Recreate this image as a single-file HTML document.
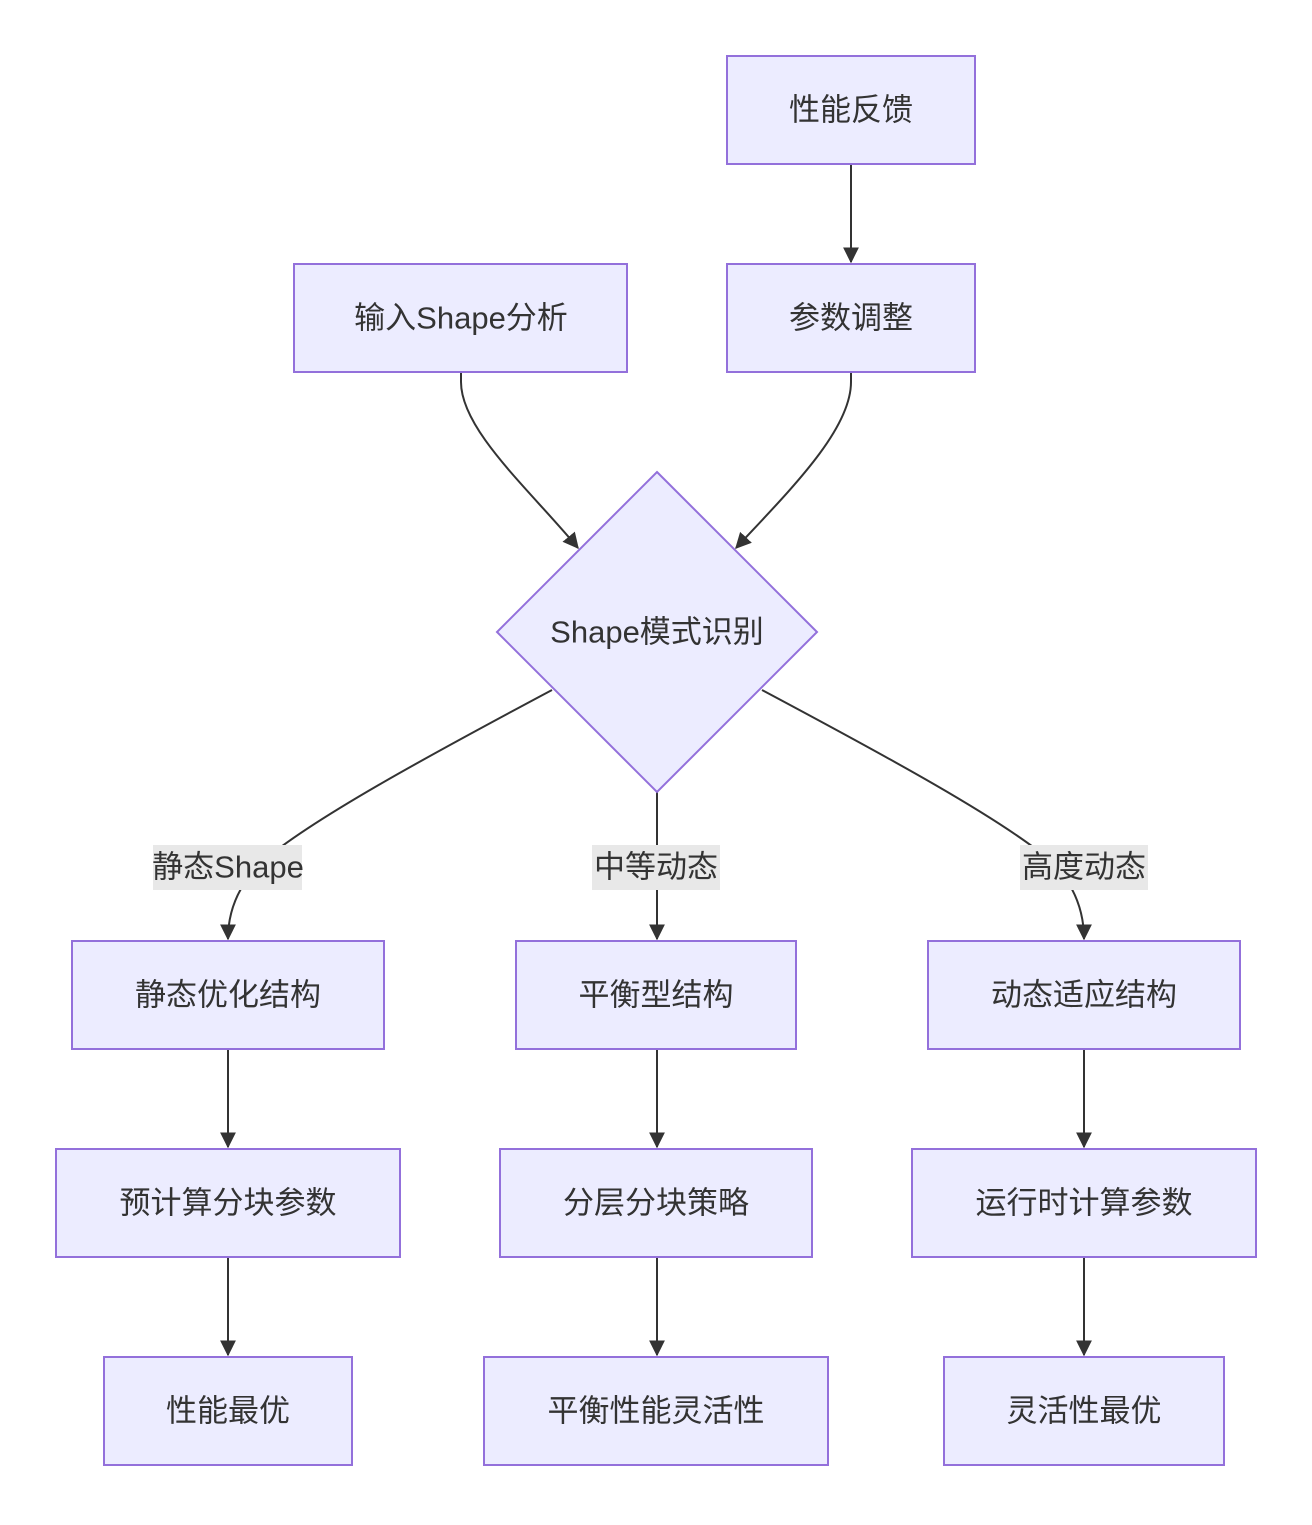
<!DOCTYPE html>
<html><head><meta charset="utf-8"><style>
html,body{margin:0;padding:0;background:#fff;}
text{font-family:"Liberation Sans","Noto Sans CJK SC",sans-serif;font-size:31px;fill:#333;text-anchor:middle;dominant-baseline:central;}
.n{fill:#ECECFF;stroke:#9370DB;stroke-width:2;}
.e{fill:none;stroke:#333;stroke-width:2;}
</style></head><body>
<svg width="1312" height="1520" viewBox="0 0 1312 1520" xmlns="http://www.w3.org/2000/svg">
<defs>
<marker id="b" viewBox="0 0 12 12" refX="11" refY="6" markerWidth="16" markerHeight="16" markerUnits="userSpaceOnUse" orient="auto"><path d="M0,0 L12,6 L0,12 z" fill="#333"/></marker></defs>
<path class="e" d="M851,164 L851,262" marker-end="url(#b)"/>
<path class="e" d="M461,372 L461,382 C461,430 530,490 578,548" marker-end="url(#b)"/>
<path class="e" d="M851,372 L851,382 C851,430 790,490 736,548" marker-end="url(#b)"/>
<path class="e" d="M552,690 C430,755 310,820 262,862 Q228,895 228,939" marker-end="url(#b)"/>
<path class="e" d="M657,792 L657,939" marker-end="url(#b)"/>
<path class="e" d="M762,690 C884,755 1004,820 1052,862 Q1084,895 1084,939" marker-end="url(#b)"/>
<path class="e" d="M228,1049 L228,1147" marker-end="url(#b)"/>
<path class="e" d="M657,1049 L657,1147" marker-end="url(#b)"/>
<path class="e" d="M1084,1049 L1084,1147" marker-end="url(#b)"/>
<path class="e" d="M228,1257 L228,1355" marker-end="url(#b)"/>
<path class="e" d="M657,1257 L657,1355" marker-end="url(#b)"/>
<path class="e" d="M1084,1257 L1084,1355" marker-end="url(#b)"/>
<rect x="153" y="845" width="149" height="45" fill="#e8e8e8"/><text x="228" y="867">静态Shape</text>
<rect x="592" y="845" width="128" height="45" fill="#e8e8e8"/><text x="656" y="867">中等动态</text>
<rect x="1020" y="845" width="128" height="45" fill="#e8e8e8"/><text x="1084" y="867">高度动态</text>
<rect class="n" x="727" y="56" width="248" height="108"/><text x="851" y="110">性能反馈</text>
<rect class="n" x="727" y="264" width="248" height="108"/><text x="851" y="318">参数调整</text>
<rect class="n" x="294" y="264" width="333" height="108"/><text x="461" y="318">输入Shape分析</text>
<polygon class="n" points="657,472 817,632 657,792 497,632"/><text x="657" y="632">Shape模式识别</text>
<rect class="n" x="72" y="941" width="312" height="108"/><text x="228" y="995">静态优化结构</text>
<rect class="n" x="516" y="941" width="280" height="108"/><text x="656" y="995">平衡型结构</text>
<rect class="n" x="928" y="941" width="312" height="108"/><text x="1084" y="995">动态适应结构</text>
<rect class="n" x="56" y="1149" width="344" height="108"/><text x="228" y="1203">预计算分块参数</text>
<rect class="n" x="500" y="1149" width="312" height="108"/><text x="656" y="1203">分层分块策略</text>
<rect class="n" x="912" y="1149" width="344" height="108"/><text x="1084" y="1203">运行时计算参数</text>
<rect class="n" x="104" y="1357" width="248" height="108"/><text x="228" y="1411">性能最优</text>
<rect class="n" x="484" y="1357" width="344" height="108"/><text x="656" y="1411">平衡性能灵活性</text>
<rect class="n" x="944" y="1357" width="280" height="108"/><text x="1084" y="1411">灵活性最优</text>
</svg>
</body></html>
